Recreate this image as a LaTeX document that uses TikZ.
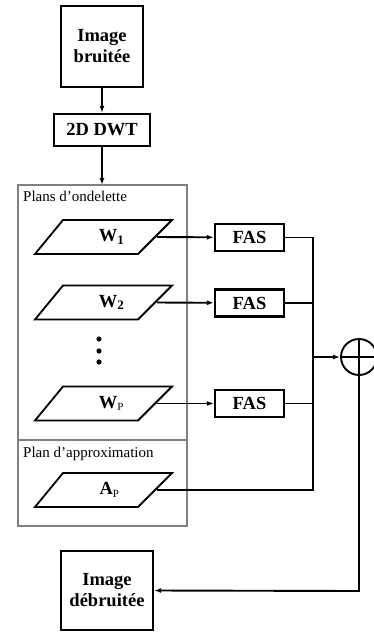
\documentclass[tikz,border=0pt]{standalone}
\usepackage{fontspec}
\setmainfont{Liberation Serif}
\usetikzlibrary{arrows.meta,calc}
\begin{document}
\begin{tikzpicture}[x=1pt,y=-1pt,
  box/.style={draw=black,line width=2.3pt,inner sep=0pt,align=center,font=\fontsize{18.5}{21}\selectfont\bfseries},
  para/.style={draw=black,line width=1.8pt,line join=miter},
  lbl/.style={font=\fontsize{15}{17}\selectfont,anchor=base west,inner sep=0pt},
  plab/.style={font=\fontsize{18.5}{21}\selectfont\bfseries,inner sep=0pt},
  conn/.style={draw=black,line width=1.9pt},
  arr/.style={conn,-{Latex[length=7pt,width=5pt]}},
  grp/.style={draw=black!50,line width=1.6pt}]
\useasboundingbox (0,0) rectangle (374,632);
% top
\node[box,minimum width=82pt,minimum height=81pt] (in) at (102,46.5) {Image\\bruitée};
\node[box,minimum width=96pt,minimum height=32pt] (dwt) at (102,130) {2D DWT};
% group box
\draw[grp] (18,185) rectangle (187,526);
\draw[grp] (18,440) -- (187,440);
\coordinate (grptop) at (102,185);
\node[lbl] (plans) at (23,201) {Plans d’ondelette};
\node[lbl] (plana) at (23,457) {Plan d’approximation};
% parallelograms
\foreach \n/\y in {w1/237,w2/302.5,wp/403.5,ap/490}{
  \coordinate (\n) at (103.5,\y);
  \draw[para] ($(\n)+(-40.5,-17)$) -- ($(\n)+(68.5,-17)$) -- ($(\n)+(34.5,17)$) -- ($(\n)+(-68.5,17)$) -- cycle;
  \coordinate (\n e) at ($(\n)+(53.5,0)$);
}
\node[plab] (t1) at ($(w1)+(8,0)$) {W\textsubscript{1}};
\node[plab] (t2) at ($(w2)+(8,0)$) {W\textsubscript{2}};
\node[plab] (tp) at ($(wp)+(8,0)$) {W\textsubscript{\normalfont\fontsize{11}{12}\selectfont P}};
\node[plab] (ta) at ($(ap)+(6,0)$) {A\textsubscript{\normalfont\fontsize{11}{12}\selectfont P}};
% dots
\foreach \y in {339,351,362}{\fill (99,\y) circle (2.6pt);}
% FAS
\node[box,minimum width=69pt,minimum height=27pt] (f1) at (249.5,237.5) {FAS};
\node[box,minimum width=69pt,minimum height=27pt] (f2) at (249.5,303) {FAS};
\node[box,minimum width=69pt,minimum height=27pt] (fp) at (249.5,403.5) {FAS};
% sum
\node[draw=black,line width=1.9pt,circle,minimum size=36pt,inner sep=0pt] (sum) at (359,357) {};
\draw[line width=1.9pt] (sum.north) -- (sum.south) (sum.west) -- (sum.east);
% output
\node[box,minimum width=92pt,minimum height=79pt] (out) at (107,590.5) {Image\\débruitée};
% junction coordinates
\coordinate (j1) at (313,237.5);
\coordinate (j2) at (313,303);
\coordinate (jp) at (313,403.5);
\coordinate (ja) at (313,490);
\coordinate (js) at (313,357);
\coordinate (c1) at (359,591);
% connectors
\draw[arr] (in) -- (dwt);
\draw[arr] (dwt) -- (grptop);
\draw[arr] (w1e) -- (f1);
\draw[arr] (w2e) -- (f2);
\draw[arr] (wpe) -- (fp);
\draw[conn] (f1.east) -- (j1) -- (ja) -- (ape);
\draw[conn] (f2.east) -- (j2);
\draw[conn] (fp.east) -- (jp);
\draw[arr] (js) -- (sum.west);
\draw[arr] (sum.south) -- (c1) -- (out.east);
\end{tikzpicture}
\end{document}
